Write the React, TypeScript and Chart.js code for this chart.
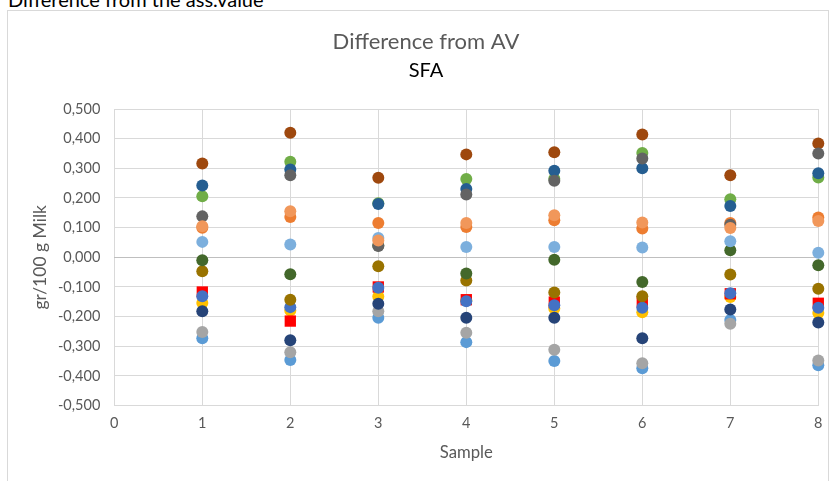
import React, { useEffect, useRef } from "react";
import { Chart, registerables } from "chart.js";

Chart.register(...registerables);

const FONT = "Lato";

const pageHeading = "Difference from the ass.value";
const chartTitle = "Difference from AV";
const chartSubtitle = "SFA";
const xAxisTitle = "Sample";
const yAxisTitle = "gr/100 g Milk";

const samples = [1, 2, 3, 4, 5, 6, 7, 8];

// series values (difference from assigned value), one value per sample
const darkGray = [0.138, 0.277, 0.038, 0.212, 0.258, 0.333, 0.11, 0.35];
const darkBlue = [0.242, 0.296, 0.18, 0.23, 0.292, 0.3, 0.173, 0.283];
const green = [0.206, 0.322, 0.182, 0.264, 0.265, 0.352, 0.196, 0.269];
const brown = [0.316, 0.42, 0.268, 0.347, 0.354, 0.414, 0.277, 0.384];
const lightOrange = [0.105, 0.155, 0.057, 0.116, 0.142, 0.117, 0.099, 0.122];
const orange = [0.1, 0.136, 0.116, 0.102, 0.125, 0.097, 0.116, 0.134];
const lightBlue = [0.052, 0.043, 0.065, 0.035, 0.035, 0.033, 0.054, 0.015];
const darkGreen = [-0.01, -0.057, 0.04, -0.055, -0.008, -0.083, 0.024, -0.027];
const olive = [-0.047, -0.143, -0.03, -0.078, -0.119, -0.131, -0.058, -0.106];
const navy = [-0.182, -0.28, -0.157, -0.204, -0.204, -0.273, -0.176, -0.22];
const blue = [-0.131, -0.168, -0.103, -0.148, -0.162, -0.17, -0.121, -0.17];
const red = [-0.117, -0.215, -0.1, -0.143, -0.151, -0.151, -0.123, -0.155];
const yellow = [-0.154, -0.179, -0.132, -0.145, -0.173, -0.185, -0.134, -0.188];
const gray = [-0.252, -0.32, -0.182, -0.254, -0.312, -0.357, -0.224, -0.348];
const midBlue = [-0.273, -0.346, -0.204, -0.286, -0.35, -0.374, -0.211, -0.364];

// first in list is drawn on top
const seriesList: { name: string; values: number[]; color: string; square?: boolean }[] = [
  { name: "S14", values: lightOrange, color: "#F1975A" },
  { name: "S9", values: darkGray, color: "#636363" },
  { name: "S2", values: orange, color: "#ED7D31" },
  { name: "S11", values: darkBlue, color: "#255E91" },
  { name: "S6", values: green, color: "#70AD47" },
  { name: "S8", values: brown, color: "#9E480E" },
  { name: "S17", values: lightBlue, color: "#7CAFDD" },
  { name: "S12", values: darkGreen, color: "#43682B" },
  { name: "S10", values: olive, color: "#997300" },
  { name: "S7", values: navy, color: "#264478" },
  { name: "S1", values: blue, color: "#4472C4" },
  { name: "S13", values: red, color: "#FF0000", square: true },
  { name: "S4", values: yellow, color: "#FFC000" },
  { name: "S3", values: gray, color: "#A5A5A5" },
  { name: "S5", values: midBlue, color: "#5B9BD5" },
];

const fmt = (v: number) => {
  const r = Math.round(v * 1000) / 1000;
  const s = (r === 0 ? 0 : r).toFixed(3);
  return s.replace(".", ",");
};

export default function App() {
  const ref = useRef<HTMLCanvasElement | null>(null);

  useEffect(() => {
    if (!ref.current) return;
    const chart = new Chart(ref.current, {
      type: "scatter",
      data: {
        datasets: seriesList.map((s) => ({
          label: s.name,
          data: samples.map((x, i) => ({ x, y: s.values[i] })),
          backgroundColor: s.color,
          borderColor: s.color,
          borderWidth: 0,
          pointStyle: s.square ? "rect" : "circle",
          pointRadius: s.square ? 8 : 6,
          pointHoverRadius: s.square ? 8 : 6,
          clip: false,
        })),
      },
      options: {
        responsive: false,
        animation: false,
        layout: { padding: { left: 25.7, right: 9.7, top: 0, bottom: 0 } },
        plugins: {
          legend: { display: false },
          tooltip: { enabled: false },
          title: {
            display: true,
            text: chartTitle,
            color: "#595959",
            font: { family: FONT, size: 22, weight: "normal" },
            padding: { top: 17.8, bottom: 3.5 },
          },
          subtitle: {
            display: true,
            text: chartSubtitle,
            color: "#000000",
            font: { family: FONT, size: 20, weight: "normal" },
            padding: { top: 0, bottom: 26.3 },
          },
        },
        scales: {
          x: {
            type: "linear",
            min: 0,
            max: 8,
            ticks: {
              stepSize: 1,
              color: "#595959",
              font: { family: FONT, size: 14.5, lineHeight: 1.78 },
              padding: 5.3,
            },
            grid: { color: "#d9d9d9", lineWidth: 1, drawTicks: false },
            border: { display: false },
            title: {
              display: true,
              text: xAxisTitle,
              color: "#595959",
              font: { family: FONT, size: 16.7 },
              padding: { top: 0, bottom: 18 },
            },
            afterFit: (scale: any) => {
              scale.height = 75.4;
            },
          },
          y: {
            type: "linear",
            min: -0.5,
            max: 0.5,
            ticks: {
              stepSize: 0.1,
              color: "#595959",
              font: { family: FONT, size: 14.5 },
              padding: 14,
              callback: (v: any) => fmt(Number(v)),
            },
            grid: {
              color: (ctx: any) =>
                ctx.tick && Math.abs(ctx.tick.value) < 1e-9 ? "#bfbfbf" : "#d9d9d9",
              lineWidth: 1,
              drawTicks: false,
            },
            border: { display: false },
            title: {
              display: true,
              text: yAxisTitle,
              color: "#595959",
              font: { family: FONT, size: 17.5 },
              padding: { top: -4.2, bottom: 0 },
            },
            afterFit: (scale: any) => {
              scale.width = 80.6;
            },
          },
        },
      },
    });
    return () => chart.destroy();
  }, []);

  return (
    <div
      style={{
        position: "absolute",
        left: 0,
        top: 0,
        width: 835,
        height: 481,
        overflow: "hidden",
        background: "#ffffff",
        fontFamily: FONT,
      }}
    >
      <div
        style={{
          position: "absolute",
          left: 8,
          top: -11,
          fontSize: 20,
          lineHeight: "20px",
          color: "#000000",
          whiteSpace: "nowrap",
        }}
      >
        {pageHeading}
      </div>
      <div
        style={{
          position: "absolute",
          left: 7,
          top: 10,
          width: 820,
          height: 480,
          border: "1px solid #d9d9d9",
          background: "#ffffff",
        }}
      >
        <canvas ref={ref} width={820} height={470} style={{ display: "block" }} />
      </div>
    </div>
  );
}
